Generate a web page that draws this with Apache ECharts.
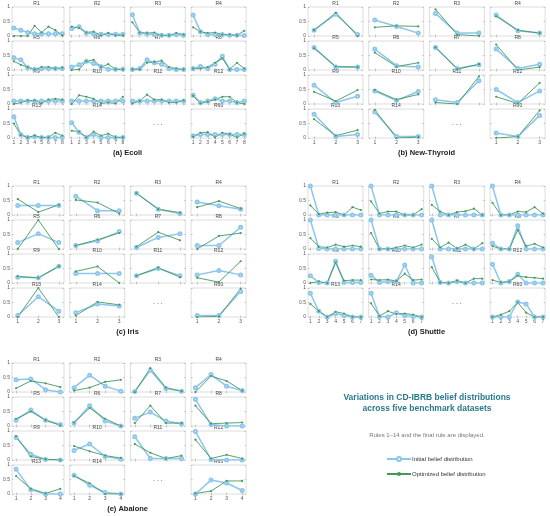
<!DOCTYPE html>
<html>
<head>
<meta charset="utf-8">
<script src="https://cdn.jsdelivr.net/npm/echarts@6/dist/echarts.min.js"></script>
<style>
  html, body { margin: 0; background: #fff; }
  #chart { width: 550px; height: 516px; }
</style>
</head>
<body>
<div id="chart"></div>
<script>
// rule labels shown in every panel (R60 is the final rule)
const ruleNames = ['R1', 'R2', 'R3', 'R4', 'R5', 'R6', 'R7', 'R8', 'R9', 'R10', 'R11', 'R12', 'R13', 'R14', 'R60'];

const ecoliInitial = [
  [0.28, 0.2, 0.12, 0.08, 0.08, 0.08, 0.08, 0.08],
  [0.26, 0.32, 0.1, 0.08, 0.06, 0.06, 0.06, 0.06],
  [0.73, 0.1, 0.08, 0.05, 0.03, 0.03, 0.05, 0.03],
  [0.72, 0.15, 0.05, 0.05, 0.05, 0.03, 0.03, 0.02],
  [0.42, 0.35, 0.08, 0.03, 0.05, 0.05, 0.05, 0.05],
  [0.1, 0.18, 0.3, 0.22, 0.12, 0.03, 0.03, 0.03],
  [0.02, 0.05, 0.35, 0.25, 0.2, 0.05, 0.02, 0.02],
  [0.05, 0.12, 0.05, 0.2, 0.47, 0.02, 0.02, 0.02],
  [0.1, 0.1, 0.1, 0.1, 0.1, 0.1, 0.1, 0.1],
  [0.1, 0.1, 0.1, 0.1, 0.1, 0.1, 0.1, 0.1],
  [0.1, 0.1, 0.1, 0.1, 0.1, 0.1, 0.1, 0.1],
  [0.3, 0.05, 0.1, 0.18, 0.1, 0.1, 0.05, 0.1],
  [0.73, 0.12, 0.02, 0.05, 0.02, 0.02, 0.02, 0.02],
  [0.53, 0.2, 0.02, 0.12, 0.02, 0.02, 0.02, 0.02],
  [0.08, 0.12, 0.12, 0.12, 0.12, 0.12, 0.12, 0.12]
];
const ecoliOptimized = [
  [0.0, 0.0, 0.0, 0.35, 0.12, 0.32, 0.2, 0.02],
  [0.32, 0.28, 0.12, 0.15, 0.02, 0.1, 0.02, 0.02],
  [0.47, 0.12, 0.1, 0.12, 0.02, 0.02, 0.1, 0.05],
  [0.3, 0.15, 0.1, 0.12, 0.05, 0.05, 0.02, 0.18],
  [0.3, 0.18, 0.1, 0.02, 0.1, 0.1, 0.05, 0.08],
  [0.0, 0.02, 0.3, 0.35, 0.1, 0.2, 0.02, 0.02],
  [0.02, 0.02, 0.25, 0.28, 0.32, 0.1, 0.05, 0.02],
  [0.05, 0.05, 0.1, 0.25, 0.4, 0.02, 0.25, 0.05],
  [0.0, 0.05, 0.12, 0.12, 0.02, 0.15, 0.18, 0.15],
  [0.0, 0.3, 0.25, 0.18, 0.02, 0.05, 0.02, 0.25],
  [0.02, 0.1, 0.32, 0.15, 0.15, 0.05, 0.05, 0.12],
  [0.28, 0.02, 0.08, 0.15, 0.25, 0.25, 0.05, 0.0],
  [0.5, 0.1, 0.02, 0.08, 0.02, 0.02, 0.18, 0.08],
  [0.25, 0.22, 0.02, 0.22, 0.08, 0.15, 0.02, 0.02],
  [0.05, 0.18, 0.2, 0.02, 0.18, 0.13, 0.02, 0.15]
];

const thyroidInitial = [
  [0.2, 0.75, 0.05], [0.55, 0.33, 0.1], [0.78, 0.1, 0.1], [0.72, 0.18, 0.1],
  [0.78, 0.1, 0.1], [0.72, 0.15, 0.1], [0.78, 0.05, 0.18], [0.72, 0.05, 0.2],
  [0.65, 0.05, 0.27], [0.45, 0.12, 0.43], [0.15, 0.05, 0.8], [0.5, 0.05, 0.45],
  [0.82, 0.05, 0.12], [0.9, 0.05, 0.05], [0.17, 0.05, 0.78]
];
const thyroidOptimized = [
  [0.2, 0.8, 0.0], [0.3, 0.35, 0.33], [0.92, 0.05, 0.0], [0.68, 0.2, 0.1],
  [0.75, 0.12, 0.1], [0.6, 0.12, 0.25], [0.78, 0.03, 0.2], [0.88, 0.0, 0.1],
  [0.42, 0.1, 0.48], [0.48, 0.15, 0.33], [0.05, 0.0, 0.95], [0.25, 0.02, 0.73],
  [0.65, 0.08, 0.27], [0.97, 0.0, 0.03], [0.0, 0.05, 0.95]
];

const irisInitial = [
  [0.33, 0.33, 0.33], [0.65, 0.15, 0.15], [0.75, 0.2, 0.05], [0.45, 0.32, 0.2],
  [0.22, 0.53, 0.22], [0.12, 0.28, 0.6], [0.05, 0.4, 0.53], [0.12, 0.12, 0.75],
  [0.2, 0.18, 0.58], [0.33, 0.33, 0.33], [0.25, 0.5, 0.25], [0.28, 0.43, 0.28],
  [0.05, 0.7, 0.2], [0.15, 0.45, 0.38], [0.05, 0.05, 0.88]
];
const irisOptimized = [
  [0.55, 0.1, 0.35], [0.52, 0.43, 0.05], [0.75, 0.2, 0.08], [0.27, 0.48, 0.22],
  [0.0, 1.0, 0.0], [0.12, 0.32, 0.55], [0.08, 0.58, 0.3], [0.0, 0.45, 0.55],
  [0.23, 0.18, 0.57], [0.4, 0.57, 0.0], [0.25, 0.53, 0.2], [0.18, 0.03, 0.75],
  [0.0, 1.0, 0.0], [0.05, 0.52, 0.42], [0.0, 0.02, 0.98]
];

const shuttleInitial = [
  [1.0, 0.0, 0.0, 0.0, 0.0, 0.0, 0.0],
  [1.0, 0.0, 0.0, 0.0, 0.0, 0.0, 0.0],
  [1.0, 0.0, 0.0, 0.0, 0.0, 0.0, 0.0],
  [1.0, 0.0, 0.0, 0.0, 0.0, 0.0, 0.0],
  [1.0, 0.02, 0.0, 0.0, 0.0, 0.0, 0.0],
  [1.0, 0.0, 0.0, 0.0, 0.0, 0.0, 0.0],
  [1.0, 0.0, 0.0, 0.0, 0.0, 0.0, 0.0],
  [0.2, 0.0, 0.0, 0.8, 0.0, 0.0, 0.0],
  [0.25, 0.02, 0.0, 0.75, 0.02, 0.02, 0.02],
  [0.27, 0.02, 0.05, 0.05, 0.62, 0.0, 0.0],
  [0.9, 0.02, 0.0, 0.05, 0.0, 0.0, 0.0],
  [0.65, 0.0, 0.05, 0.3, 0.0, 0.0, 0.0],
  [0.82, 0.2, 0.0, 0.12, 0.05, 0.0, 0.0],
  [0.82, 0.02, 0.0, 0.15, 0.05, 0.02, 0.0],
  [0.0, 0.0, 0.0, 0.52, 0.45, 0.0, 0.0]
];
const shuttleOptimized = [
  [0.33, 0.03, 0.08, 0.1, 0.0, 0.27, 0.17],
  [0.47, 0.05, 0.12, 0.12, 0.0, 0.0, 0.2],
  [0.35, 0.12, 0.0, 0.1, 0.13, 0.22, 0.0],
  [0.42, 0.0, 0.0, 0.12, 0.1, 0.27, 0.05],
  [0.38, 0.08, 0.05, 0.15, 0.08, 0.12, 0.08],
  [0.55, 0.0, 0.0, 0.05, 0.12, 0.05, 0.15],
  [0.35, 0.05, 0.22, 0.02, 0.15, 0.0, 0.2],
  [0.1, 0.0, 0.0, 0.65, 0.1, 0.18, 0.05],
  [0.0, 0.05, 0.0, 0.7, 0.08, 0.1, 0.1],
  [0.12, 0.1, 0.12, 0.07, 0.32, 0.1, 0.12],
  [0.55, 0.02, 0.0, 0.08, 0.0, 0.15, 0.15],
  [0.1, 0.02, 0.05, 0.25, 0.2, 0.18, 0.15],
  [0.45, 0.2, 0.0, 0.18, 0.12, 0.0, 0.0],
  [0.47, 0.03, 0.2, 0.1, 0.12, 0.08, 0.0],
  [0.0, 0.08, 0.2, 0.5, 0.15, 0.0, 0.0]
];

const abaloneInitial = [
  [0.42, 0.45, 0.08, 0.0], [0.15, 0.58, 0.2, 0.03], [0.02, 0.75, 0.12, 0.03], [0.15, 0.6, 0.2, 0.05],
  [0.2, 0.55, 0.2, 0.05], [0.1, 0.7, 0.17, 0.0], [0.27, 0.48, 0.17, 0.08], [0.92, 0.05, 0.0, 0.0],
  [0.78, 0.2, 0.02, 0.0], [0.33, 0.55, 0.12, 0.03], [0.8, 0.05, 0.05, 0.05], [0.98, 0.02, 0.0, 0.0],
  [0.85, 0.15, 0.0, 0.0], [0.65, 0.3, 0.05, 0.0], [0.0, 0.48, 0.38, 0.12]
];
const abaloneOptimized = [
  [0.13, 0.38, 0.3, 0.17], [0.05, 0.15, 0.35, 0.42], [0.0, 0.82, 0.15, 0.03], [0.0, 0.55, 0.38, 0.05],
  [0.25, 0.5, 0.2, 0.02], [0.12, 0.62, 0.25, 0.0], [0.1, 0.7, 0.1, 0.1], [0.7, 0.08, 0.1, 0.12],
  [0.82, 0.12, 0.03, 0.0], [0.48, 0.3, 0.15, 0.07], [0.55, 0.25, 0.05, 0.15], [0.7, 0.05, 0.18, 0.05],
  [0.62, 0.18, 0.02, 0.18], [0.62, 0.37, 0.0, 0.0], [0.02, 0.1, 0.45, 0.45]
];

const panelLabels = ['(a) Ecoli', '(b) New-Thyroid', '(c) Iris', '(d) Shuttle', '(e) Abalone'];
const panelInitial = [ecoliInitial, thyroidInitial, irisInitial, shuttleInitial, abaloneInitial];
const panelOptimized = [ecoliOptimized, thyroidOptimized, irisOptimized, shuttleOptimized, abaloneOptimized];

// layout
const panelOrigins = [[9, 7], [308, 7], [9, 186], [308, 186], [9, 363]];
const CELL_W = 55, CELL_H = 29, COL_STEP = 60.7, ROW_STEP = 34;
const slotOf = [0, 1, 2, 3, 4, 5, 6, 7, 8, 9, 10, 11, 12, 13, 15]; // slot 14 holds the dots
const BLUE = '#8cc6ec', GREEN = '#43995a';
const FONT = 'Liberation Sans';

const grids = [], xAxes = [], yAxes = [], series = [], graphics = [];
const tick = { inside: true, length: 1.5, lineStyle: { color: '#999', width: 0.5 } };

panelLabels.forEach((label, pi) => {
  const [ox, oy] = panelOrigins[pi];
  const n = panelInitial[pi][0].length;
  const xs = Array.from({ length: n }, (_, i) => i + 1);

  ruleNames.forEach((rule, ri) => {
    const slot = slotOf[ri];
    const row = Math.floor(slot / 4), col = slot % 4;
    const left = ox + col * COL_STEP, top = oy + row * ROW_STEP;
    const gi = grids.length;
    grids.push({ left, top, width: CELL_W, height: CELL_H, show: true, borderColor: '#c6c6c6', borderWidth: 0.6 });

    const xBase = { gridIndex: gi, type: 'value', min: 0.72, max: n + 0.25, axisLine: { show: false }, splitLine: { show: false } };
    xAxes.push(Object.assign({}, xBase, {
      position: 'bottom',
      axisTick: Object.assign({ customValues: xs }, tick),
      axisLabel: { show: row === 3, customValues: xs, fontSize: 5, margin: 2, color: '#555', fontFamily: FONT }
    }));
    xAxes.push(Object.assign({}, xBase, {
      position: 'top',
      axisTick: Object.assign({ customValues: xs }, tick),
      axisLabel: { show: false }
    }));
    const yBase = { gridIndex: gi, type: 'value', min: 0, max: 1, interval: 0.5, axisLine: { show: false }, splitLine: { show: false }, axisTick: tick };
    yAxes.push(Object.assign({}, yBase, {
      position: 'left',
      axisLabel: { show: col === 0, fontSize: 5, margin: 2, color: '#555', fontFamily: FONT }
    }));
    yAxes.push(Object.assign({}, yBase, { position: 'right', axisLabel: { show: false } }));

    const toPts = vals => vals.map((v, i) => [xs[i], v]);
    series.push({
      name: 'Initial belief distribution', type: 'line',
      xAxisIndex: 2 * gi, yAxisIndex: 2 * gi,
      data: toPts(panelInitial[pi][ri]),
      symbol: 'emptyCircle', symbolSize: 3,
      lineStyle: { color: BLUE, width: 1.5 },
      itemStyle: { color: BLUE, borderWidth: 0.8 }
    });
    series.push({
      name: 'Optimized belief distribution', type: 'line',
      xAxisIndex: 2 * gi, yAxisIndex: 2 * gi,
      data: toPts(panelOptimized[pi][ri]),
      symbol: 'circle', symbolSize: 2.2,
      lineStyle: { color: GREEN, width: 0.9 },
      itemStyle: { color: GREEN }
    });

    graphics.push({
      type: 'text', x: left + CELL_W / 2, y: top - 3,
      style: { text: rule, fontSize: 5, fill: '#444', align: 'center', verticalAlign: 'middle', fontFamily: FONT }
    });
  });

  // the "..." placeholder and the panel caption
  graphics.push({
    type: 'text', x: ox + 2 * COL_STEP + CELL_W / 2, y: oy + 3 * ROW_STEP + CELL_H / 2,
    style: { text: '. . .', fontSize: 7, fill: '#333', align: 'center', verticalAlign: 'middle', fontFamily: FONT }
  });
  graphics.push({
    type: 'text', x: ox + (3 * COL_STEP + CELL_W) / 2, y: oy + 146,
    style: { text: label, fontSize: 7.5, fontWeight: 'bold', fill: '#222', align: 'center', verticalAlign: 'middle', fontFamily: FONT }
  });
});

graphics.push({
  type: 'text', x: 427, y: 403,
  style: {
    text: 'Variations in CD-IBRB belief distributions\nacross five benchmark datasets',
    fontSize: 8.5, lineHeight: 10.5, fontWeight: 'bold', fill: '#2b7a8c',
    align: 'center', verticalAlign: 'middle', fontFamily: FONT
  }
});
graphics.push({
  type: 'text', x: 427, y: 435,
  style: { text: 'Rules 1–14 and the final rule are displayed.', fontSize: 6, fill: '#777', align: 'center', verticalAlign: 'middle', fontFamily: FONT }
});

const chart = echarts.init(document.getElementById('chart'));
chart.setOption({
  animation: false,
  backgroundColor: '#fff',
  grid: grids,
  xAxis: xAxes,
  yAxis: yAxes,
  series: series,
  graphic: graphics,
  legend: {
    data: ['Initial belief distribution', 'Optimized belief distribution'],
    orient: 'vertical', left: 381, top: 451,
    itemWidth: 24, itemHeight: 5, itemGap: 9,
    textStyle: { fontSize: 6, color: '#333', fontFamily: FONT, padding: [0, 0, 0, -4] }
  }
});
</script>
</body>
</html>
